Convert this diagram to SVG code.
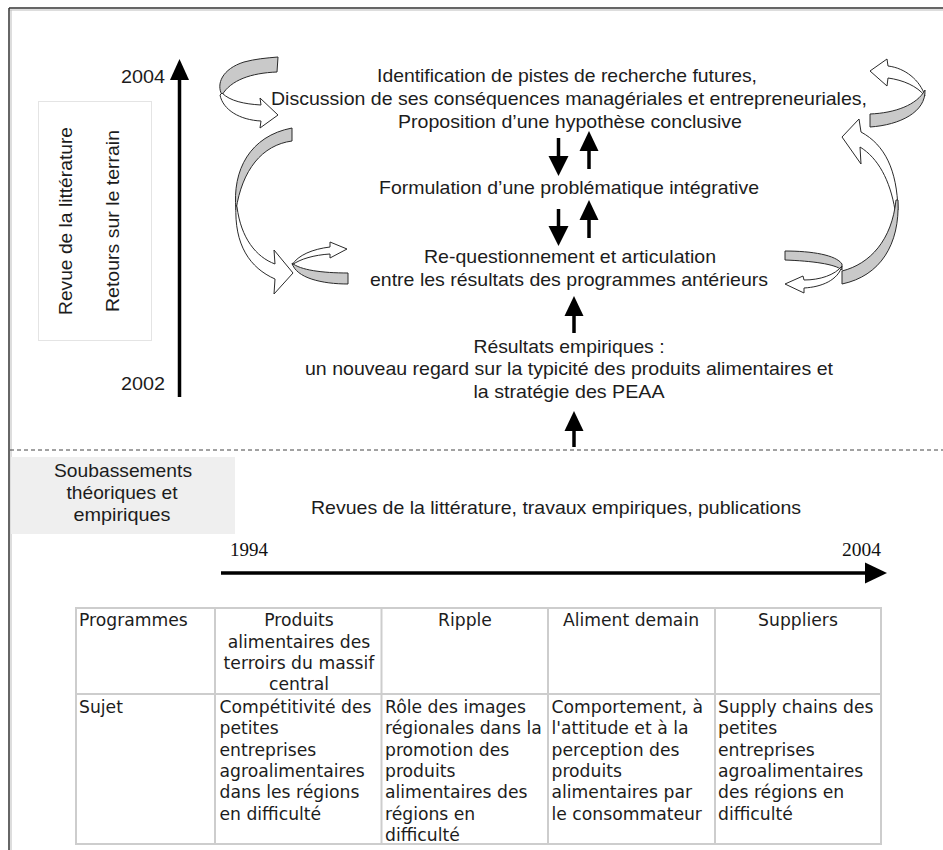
<svg xmlns="http://www.w3.org/2000/svg" width="943" height="850" viewBox="0 0 943 850">
<style>
.t{font-family:"Liberation Sans",Arial,sans-serif;font-size:19px;fill:#1c1c1c;text-anchor:middle}
.tl{font-family:"Liberation Sans",Arial,sans-serif;font-size:19px;fill:#1c1c1c}
.ser{font-family:"Liberation Serif","Times New Roman",serif;font-size:18px;fill:#111}
.tb{font-family:"DejaVu Sans",Verdana,sans-serif;font-size:17.2px;fill:#1c1c1c}
.tbc{font-family:"DejaVu Sans",Verdana,sans-serif;font-size:17.2px;fill:#1c1c1c;text-anchor:middle}
.gray{fill:#c9c9c9;stroke:#2a2a2a;stroke-width:1}
.white{fill:#ffffff;stroke:#2a2a2a;stroke-width:1}
.shaft{stroke:#000;stroke-width:3.5;fill:none}
.head{fill:#000}
.cell{fill:none;stroke:#cdcdcd;stroke-width:2}
</style>

<rect width="943" height="850" fill="#ffffff"/>

<g id="frame">
  <line x1="9" y1="8" x2="943" y2="8" stroke="#333" stroke-width="1.5"/>
  <line x1="9" y1="10" x2="943" y2="10" stroke="#bbb" stroke-width="1"/>
  <line x1="9" y1="8" x2="9" y2="850" stroke="#333" stroke-width="1.5"/>
  <line x1="11" y1="10" x2="11" y2="850" stroke="#bbb" stroke-width="1"/>
</g>

<g id="timeline-vertical">
  <line class="shaft" x1="179.5" y1="397" x2="179.5" y2="76"/>
  <polygon class="head" points="179.5,59 170,80 189,80"/>
  <text class="tl" x="165" y="83" text-anchor="end" textLength="44" lengthAdjust="spacingAndGlyphs">2004</text>
  <text class="tl" x="165" y="390" text-anchor="end" textLength="44" lengthAdjust="spacingAndGlyphs">2002</text>
</g>

<g id="side-box">
  <rect x="38.5" y="101.5" width="113" height="239" fill="#fff" stroke="#e4e4e4" stroke-width="1"/>
  <text class="t" transform="translate(72,221) rotate(-90)" textLength="188" lengthAdjust="spacingAndGlyphs">Revue de la littérature</text>
  <text class="t" transform="translate(119,221) rotate(-90)" textLength="182" lengthAdjust="spacingAndGlyphs">Retours sur le terrain</text>
</g>

<g id="node-conclusion">
  <text class="t" x="567" y="82" textLength="380" lengthAdjust="spacingAndGlyphs">Identification de pistes de recherche futures,</text>
  <text class="t" x="569" y="105" textLength="596" lengthAdjust="spacingAndGlyphs">Discussion de ses conséquences managériales et entrepreneuriales,</text>
  <text class="t" x="570" y="128" textLength="344" lengthAdjust="spacingAndGlyphs">Proposition d’une hypothèse conclusive</text>
</g>

<g id="node-problematique">
  <text class="t" x="569" y="194" textLength="380" lengthAdjust="spacingAndGlyphs">Formulation d’une problématique intégrative</text>
</g>

<g id="node-requestionnement">
  <text class="t" x="570" y="263" textLength="292" lengthAdjust="spacingAndGlyphs">Re-questionnement et articulation</text>
  <text class="t" x="569" y="286" textLength="398" lengthAdjust="spacingAndGlyphs">entre les résultats des programmes antérieurs</text>
</g>

<g id="node-resultats">
  <text class="t" x="569" y="353" textLength="191" lengthAdjust="spacingAndGlyphs">Résultats empiriques :</text>
  <text class="t" x="569" y="375" textLength="528" lengthAdjust="spacingAndGlyphs">un nouveau regard sur la typicité des produits alimentaires et</text>
  <text class="t" x="569" y="398" textLength="191" lengthAdjust="spacingAndGlyphs">la stratégie des PEAA</text>
</g>

<g id="node-soubassements">
  <rect x="11" y="457" width="224" height="77" fill="#efefef"/>
  <text class="t" x="123" y="477" textLength="138" lengthAdjust="spacingAndGlyphs">Soubassements</text>
  <text class="t" x="122" y="499" textLength="111" lengthAdjust="spacingAndGlyphs">théoriques et</text>
  <text class="t" x="122" y="521" textLength="97" lengthAdjust="spacingAndGlyphs">empiriques</text>
</g>

<g id="node-revues">
  <text class="t" x="556" y="514" textLength="490" lengthAdjust="spacingAndGlyphs">Revues de la littérature, travaux empiriques, publications</text>
</g>

<g id="timeline-horizontal">
  <text class="ser" x="230" y="556" textLength="38" lengthAdjust="spacingAndGlyphs">1994</text>
  <text class="ser" x="842" y="556" textLength="39" lengthAdjust="spacingAndGlyphs">2004</text>
  <line class="shaft" x1="221" y1="573" x2="868" y2="573"/>
  <polygon class="head" points="887,573 865,562.5 865,583.5"/>
</g>

<g id="connectors">
  <line x1="10" y1="450" x2="943" y2="450" stroke="#444" stroke-width="1" stroke-dasharray="4,3"/>
  <!-- down/up arrows between nodes -->
  <line class="shaft" x1="558.5" y1="138" x2="558.5" y2="160"/>
  <polygon class="head" points="558.5,176 548.5,156 568.5,156"/>
  <line class="shaft" x1="589" y1="169" x2="589" y2="148"/>
  <polygon class="head" points="589,131 579.5,151 598.5,151"/>
  <line class="shaft" x1="558.5" y1="209" x2="558.5" y2="230"/>
  <polygon class="head" points="558.5,246 548.5,226 568.5,226"/>
  <line class="shaft" x1="589" y1="238" x2="589" y2="218"/>
  <polygon class="head" points="589,200 579.5,220 598.5,220"/>
  <line class="shaft" x1="574" y1="333" x2="574" y2="313"/>
  <polygon class="head" points="574,296 564.5,316 583.5,316"/>
  <line class="shaft" x1="574" y1="447" x2="574" y2="428"/>
  <polygon class="head" points="574,411 564.5,431 583.5,431"/>

  <!-- left curved ribbon arrows -->
  <path class="gray" d="M278,57 L277,72 C251,73 231,80 222,95 C216,84 222,69 244,62 C255,59 266,58 278,57 Z"/>
  <path class="white" d="M222,93 C230,101 244,104 261,105 L260,98 L278,115 L260,128 L261,121 C240,120 223,110 220,95 Z"/>
  <path class="gray" d="M292,128 L292,141 C262,145 242,170 236,210 C232,170 250,136 292,128 Z"/>
  <path class="white" d="M236,205 C234,245 250,268 275,279 L274,294 L293,273 L274,250 L275,264 C256,257 241,238 237,207 Z"/>
  <path class="gray" d="M292,263 C296,278 322,284 348,284 L348,273 C322,273 300,270 292,263 Z"/>
  <path class="white" d="M292,265 C298,255 313,249 330,247 L330,242 L347,249 L330,258 L330,254 C314,255 300,259 292,265 Z"/>

  <!-- right curved ribbon arrows -->
  <path class="white" d="M925,96 C920,80 905,68 888,66 L887,59 L870,71 L887,86 L888,78 C903,80 917,86 925,96 Z"/>
  <path class="gray" d="M925,90 C926,112 900,125 870,127 L870,114 C895,113 917,105 925,90 Z"/>
  <path class="white" d="M898,210 C897,170 885,145 861,132 L859,119 L842,137 L861,164 L860,147 C878,158 890,180 895,210 Z"/>
  <path class="gray" d="M898,200 C900,245 880,276 842,284 L842,271 C870,264 892,240 896,200 Z"/>
  <path class="gray" d="M785,251 C812,251 836,255 842,264 L842,270 C835,264 812,261 785,260 Z"/>
  <path class="white" d="M842,266 C835,275 820,280 804,280 L803,276 L785,284 L804,293 L804,288 C822,287 838,280 842,266 Z"/>
</g>

<g id="table">
  <rect class="cell" x="76" y="608" width="805" height="236"/>
  <line class="cell" x1="76" y1="694" x2="881" y2="694"/>
  <line class="cell" x1="215" y1="608" x2="215" y2="844"/>
  <line class="cell" x1="381.5" y1="608" x2="381.5" y2="844"/>
  <line class="cell" x1="548" y1="608" x2="548" y2="844"/>
  <line class="cell" x1="715" y1="608" x2="715" y2="844"/>

  <text class="tb" x="79" y="626">Programmes</text>
  <text class="tbc" x="299" y="626">Produits</text>
  <text class="tbc" x="299" y="647.5">alimentaires des</text>
  <text class="tbc" x="299" y="669">terroirs du massif</text>
  <text class="tbc" x="299" y="690">central</text>
  <text class="tbc" x="465" y="626">Ripple</text>
  <text class="tbc" x="631" y="626">Aliment demain</text>
  <text class="tbc" x="798" y="626">Suppliers</text>

  <text class="tb" x="79" y="713">Sujet</text>
  <text class="tb" x="219.5" y="713">Compétitivité des</text>
  <text class="tb" x="219.5" y="734.3">petites</text>
  <text class="tb" x="219.5" y="755.6">entreprises</text>
  <text class="tb" x="219.5" y="776.9">agroalimentaires</text>
  <text class="tb" x="219.5" y="798.2">dans les régions</text>
  <text class="tb" x="219.5" y="819.5">en difficulté</text>

  <text class="tb" x="385" y="713">Rôle des images</text>
  <text class="tb" x="385" y="734.3">régionales dans la</text>
  <text class="tb" x="385" y="755.6">promotion des</text>
  <text class="tb" x="385" y="776.9">produits</text>
  <text class="tb" x="385" y="798.2">alimentaires des</text>
  <text class="tb" x="385" y="819.5">régions en</text>
  <text class="tb" x="385" y="840.8">difficulté</text>

  <text class="tb" x="551.5" y="713">Comportement, à</text>
  <text class="tb" x="551.5" y="734.3">l'attitude et à la</text>
  <text class="tb" x="551.5" y="755.6">perception des</text>
  <text class="tb" x="551.5" y="776.9">produits</text>
  <text class="tb" x="551.5" y="798.2">alimentaires par</text>
  <text class="tb" x="551.5" y="819.5">le consommateur</text>

  <text class="tb" x="718" y="713">Supply chains des</text>
  <text class="tb" x="718" y="734.3">petites</text>
  <text class="tb" x="718" y="755.6">entreprises</text>
  <text class="tb" x="718" y="776.9">agroalimentaires</text>
  <text class="tb" x="718" y="798.2">des régions en</text>
  <text class="tb" x="718" y="819.5">difficulté</text>
</g>
</svg>
